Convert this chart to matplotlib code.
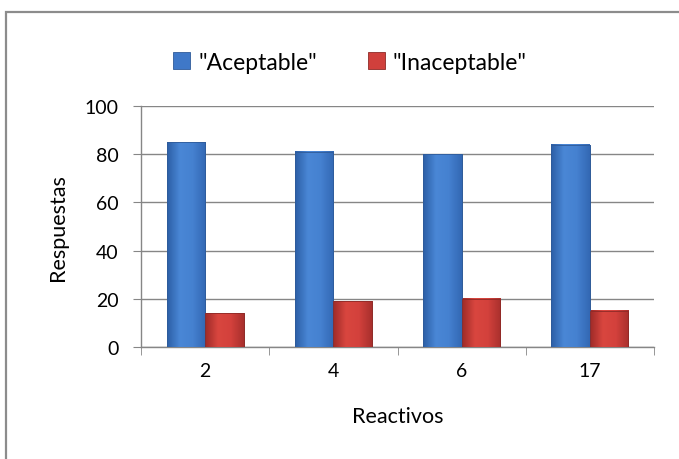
import numpy as np
import matplotlib
matplotlib.use("Agg")
import matplotlib.pyplot as plt
from matplotlib.patches import Rectangle
from matplotlib.colors import LinearSegmentedColormap

# datos
reactivos = ["2", "4", "6", "17"]
aceptable = [85, 81, 80, 84]
inaceptable = [14, 19, 20, 15]

plt.rcParams['font.family'] = ['Lato', 'DejaVu Sans']

fig = plt.figure(figsize=(6.79, 4.60), dpi=100)
ax = fig.add_axes([141/679, 1 - 348/460, (654 - 141)/679, (348 - 107)/460])

# marco del grafico
fig.patches.append(Rectangle((6/679, -0.1), 1.0, 1 - 13/460 + 0.1, transform=fig.transFigure,
                             fill=False, edgecolor='#8c8c8c', linewidth=1.6, zorder=0))

cmap_azul = LinearSegmentedColormap.from_list('azul', ['#2c5fa6', '#4a87d6', '#4581d0', '#3368b4'])
cmap_rojo = LinearSegmentedColormap.from_list('rojo', ['#9e2b28', '#d9463f', '#d3413c', '#a9302d'])
grad = np.linspace(0, 1, 64).reshape(1, -1)

x = np.arange(len(reactivos))
w = 0.30
b1 = ax.bar(x - w/2, aceptable, w, color='#3f78c8', edgecolor='#2f5b99', linewidth=0.6,
            label='"Aceptable"', zorder=3)
b2 = ax.bar(x + w/2, inaceptable, w, color='#d0403c', edgecolor='#8e2a27', linewidth=0.6,
            label='"Inaceptable"', zorder=3)

# degradado dentro de cada barra
for barras, cm in [(b1, cmap_azul), (b2, cmap_rojo)]:
    for r in barras:
        x0, y0 = r.get_x(), r.get_y()
        ax.imshow(grad, cmap=cm, aspect='auto', zorder=3.5,
                  extent=[x0, x0 + r.get_width(), y0, y0 + r.get_height()])
        ax.add_patch(Rectangle((x0, y0), r.get_width(), r.get_height(), fill=False,
                               edgecolor=r.get_edgecolor(), linewidth=0.6, zorder=4))

ax.set_xlim(-0.5, len(reactivos) - 0.5)
ax.set_ylim(0, 100)
ax.set_yticks(range(0, 101, 20))
ax.set_xticks(x)
ax.set_xticklabels(reactivos)
ax.set_xticks(np.arange(-0.5, len(reactivos), 1), minor=True)
ax.tick_params(axis='x', which='major', length=0, pad=11, labelsize=14)
ax.tick_params(axis='x', which='minor', length=6, color='#868686', direction='out')
ax.tick_params(axis='y', length=6, color='#868686', direction='out', pad=10, labelsize=14)

ax.grid(axis='y', color='#868686', linewidth=1, zorder=0)
ax.set_axisbelow(True)
for s in ['top', 'right']:
    ax.spines[s].set_visible(False)
for s in ['left', 'bottom']:
    ax.spines[s].set_color('#868686')
    ax.spines[s].set_linewidth(1)

ax.set_ylabel('Respuestas', fontsize=15.5, labelpad=12)
ax.set_xlabel('Reactivos', fontsize=15.5, labelpad=19)

fig.legend(handles=[b1, b2], loc='center', bbox_to_anchor=(350/679, 1 - 63/460), ncol=2,
           frameon=False, fontsize=16.5, handlelength=0.75, handleheight=0.75,
           handletextpad=0.35, columnspacing=2.2)

fig.savefig('out.png', dpi=100)
